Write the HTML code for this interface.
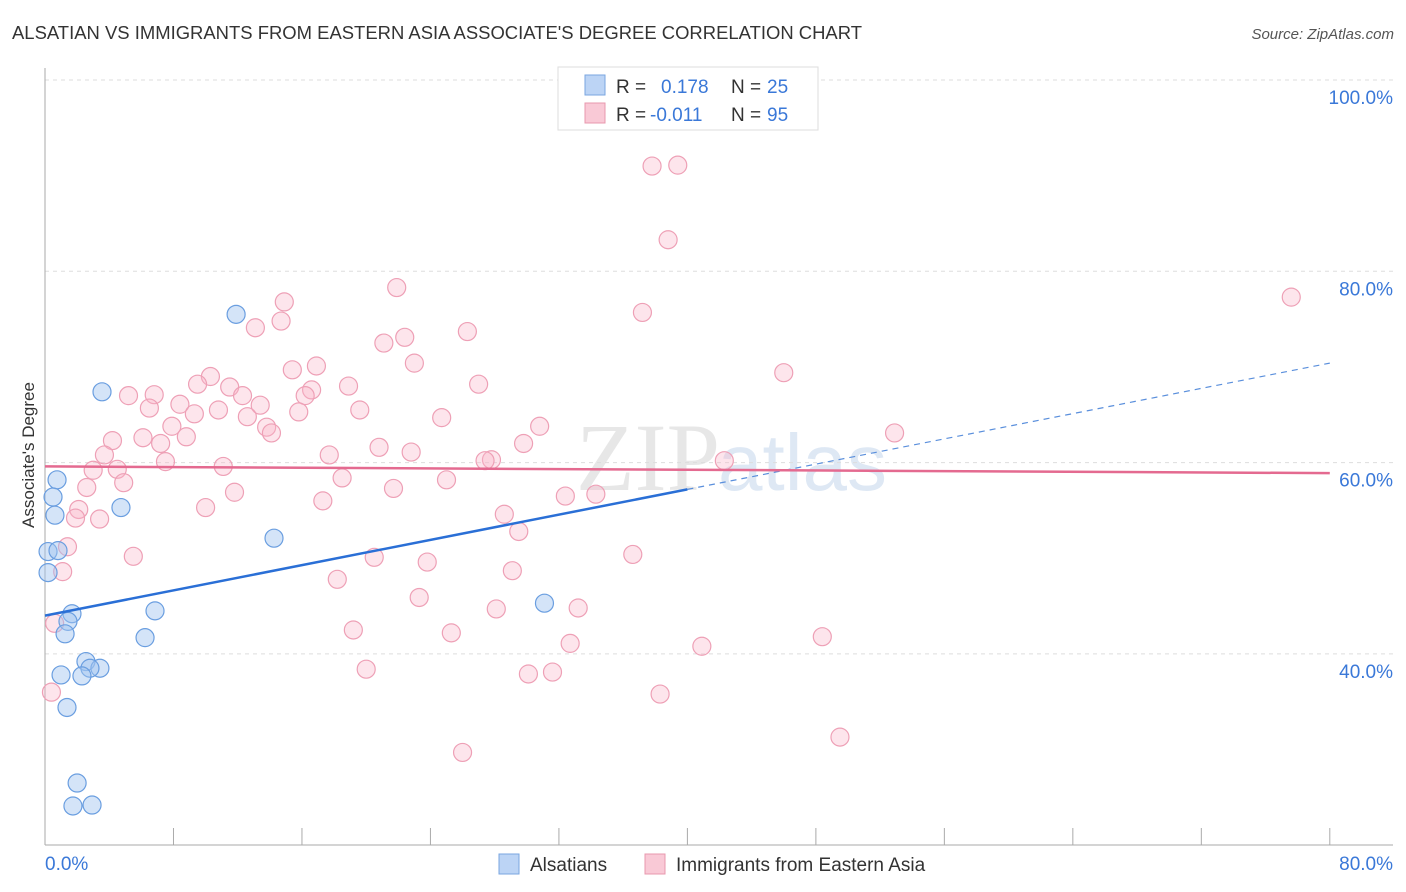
<!DOCTYPE html>
<html><head><meta charset="utf-8"><style>
body{margin:0;background:#fff;font-family:"Liberation Sans",sans-serif;}
svg{display:block}
</style></head><body>
<svg id="chart" width="1406" height="892" xmlns="http://www.w3.org/2000/svg">
<text x="12" y="39" font-size="18" fill="#333" textLength="850" lengthAdjust="spacingAndGlyphs">ALSATIAN VS IMMIGRANTS FROM EASTERN ASIA ASSOCIATE'S DEGREE CORRELATION CHART</text>
<text x="1394" y="39" font-size="15" fill="#555" font-style="italic" text-anchor="end">Source: ZipAtlas.com</text>
<text x="34" y="455" font-size="17" fill="#333" text-anchor="middle" transform="rotate(-90 34 455)">Associate's Degree</text>
<g><text x="720" y="490" font-size="96" fill="#ddd" text-anchor="end" font-family="Liberation Serif" opacity="0.7">ZIP</text><text x="718" y="490" font-size="80" fill="#c9d9ee" opacity="0.6">atlas</text></g>
<g id="grid"></g><g id="marks"></g>
<g>
<rect x="558" y="67" width="260" height="63" fill="#fff" stroke="#ddd"/>
<rect x="585" y="75" width="20" height="20" fill="#bcd4f5" stroke="#7aa6e0"/>
<text x="616" y="93" font-size="19" fill="#333">R =</text><text x="661" y="93" font-size="19" fill="#3a78d8">0.178</text>
<text x="731" y="93" font-size="19" fill="#333">N =</text><text x="767" y="93" font-size="19" fill="#3a78d8">25</text>
<rect x="585" y="103" width="20" height="20" fill="#f9c9d6" stroke="#e898ae"/>
<text x="616" y="121" font-size="19" fill="#333">R =</text><text x="650" y="121" font-size="19" fill="#3a78d8">-0.011</text>
<text x="731" y="121" font-size="19" fill="#333">N =</text><text x="767" y="121" font-size="19" fill="#3a78d8">95</text>
</g>
<g>
<rect x="499" y="854" width="20" height="20" fill="#bcd4f5" stroke="#7aa6e0"/><text x="530" y="871" font-size="19" fill="#333">Alsatians</text>
<rect x="645" y="854" width="20" height="20" fill="#f9c9d6" stroke="#e898ae"/><text x="676" y="871" font-size="19" fill="#333">Immigrants from Eastern Asia</text>
</g>
</svg>
<script>
const yTicks=[100,80,60,40];
const yTickLabels=["100.0%","80.0%","60.0%","40.0%"];
const xTicks=[0,8,16,24,32,40,48,56,64,72,80];
const blueX=[3.55,11.9,0.75,0.5,0.62,4.73,0.19,0.81,0.19,14.26,1.68,1.43,6.85,1.25,6.23,2.55,3.42,2.8,1.0,2.3,1.37,2.0,1.74,2.93,31.1];
const blueY=[67.4,75.5,58.2,56.4,54.5,55.3,50.7,50.8,48.5,52.1,44.2,43.4,44.5,42.1,41.7,39.2,38.5,38.5,37.8,37.7,34.4,26.5,24.1,24.2,45.3];
const pinkX=[37.8,39.4,38.8,77.6,21.9,14.9,14.7,13.1,37.2,26.3,22.4,21.1,23.0,16.9,15.4,46.0,10.3,9.5,11.5,18.9,27.0,16.6,5.2,6.8,12.3,16.2,8.4,6.5,10.8,13.4,9.3,15.8,19.6,12.6,24.7,7.9,13.8,14.1,6.1,8.8,7.2,4.2,3.7,52.9,30.8,29.8,20.8,22.8,17.7,7.5,11.1,3.0,4.5,27.8,27.4,42.3,18.5,25.0,4.9,2.6,11.8,21.7,32.4,34.3,17.3,10.0,2.1,1.9,3.4,28.6,29.5,1.4,5.5,20.5,36.6,1.1,23.8,29.1,18.2,23.3,33.2,28.1,0.6,19.2,25.3,32.7,48.4,40.9,20.0,30.1,31.6,0.4,38.3,49.5,26.0];
const pinkY=[91.0,91.1,83.3,77.3,78.3,76.8,74.8,74.1,75.7,73.7,73.1,72.5,70.4,70.1,69.7,69.4,69.0,68.2,67.9,68.0,68.2,67.6,67.0,67.1,67.0,67.0,66.1,65.7,65.5,66.0,65.1,65.3,65.5,64.8,64.7,63.8,63.7,63.1,62.6,62.7,62.0,62.3,60.8,63.1,63.8,62.0,61.6,61.1,60.8,60.1,59.6,59.2,59.3,60.3,60.2,60.2,58.4,58.2,57.9,57.4,56.9,57.3,56.5,56.7,56.0,55.3,55.1,54.2,54.1,54.6,52.8,51.2,50.2,50.1,50.4,48.6,49.6,48.7,47.8,45.9,44.8,44.7,43.2,42.5,42.2,41.1,41.8,40.8,38.4,37.9,38.1,36.0,35.8,31.3,29.7];
const blueTrend=[44.0,70.4]; const blueSolidEnd=40;
const pinkTrend=[59.6,58.9];
const NS="http://www.w3.org/2000/svg";
const X=v=>45+v*16.06, Y=v=>80+(100-v)*9.565;
function mk(t,a,p){const e=document.createElementNS(NS,t);for(const k in a)e.setAttribute(k,a[k]);p.appendChild(e);return e;}
const g=document.getElementById('grid'),m=document.getElementById('marks');
yTicks.forEach((t,i)=>{const l=mk('line',{x1:45,x2:1393,y1:Y(t),y2:Y(t),stroke:'#ddd','stroke-dasharray':'4,4'},g);

const tx=mk('text',{x:1393,y:Y(t)+24,'font-size':19,fill:'#3a78d8','text-anchor':'end'},g);tx.textContent=yTickLabels[i];
});
const ax=mk('line',{x1:45,x2:45,y1:68,y2:845,stroke:'#aaa'},g);
const bx=mk('line',{x1:45,x2:1393,y1:845,y2:845,stroke:'#aaa'},g);
xTicks.forEach(t=>{const l=mk('line',{x1:X(t),x2:X(t),y1:828,y2:845,stroke:'#aaa'},g);});
const x0=mk('text',{x:45,y:870,'font-size':19,fill:'#3a78d8'},g);x0.textContent='0.0%';
const x1=mk('text',{x:1393,y:870,'font-size':19,fill:'#3a78d8','text-anchor':'end'},g);x1.textContent='80.0%';
pinkX.forEach((v,i)=>{const c=mk('circle',{cx:X(v),cy:Y(pinkY[i]),r:9,fill:'rgba(248,180,200,0.35)',stroke:'#eea0b6','stroke-width':1.2},m);
});
blueX.forEach((v,i)=>{const c=mk('circle',{cx:X(v),cy:Y(blueY[i]),r:9,fill:'rgba(160,195,240,0.45)',stroke:'#6a9ee0','stroke-width':1.2},m);
});
const bs=(t)=>blueTrend[0]+(blueTrend[1]-blueTrend[0])*t/80;
const l1=mk('line',{x1:X(0),y1:Y(bs(0)),x2:X(blueSolidEnd),y2:Y(bs(blueSolidEnd)),stroke:'#2a6fd6','stroke-width':2.5},m);

const l2=mk('line',{x1:X(blueSolidEnd),y1:Y(bs(blueSolidEnd)),x2:X(80),y2:Y(bs(80)),stroke:'#5a8fdc','stroke-width':1.2,'stroke-dasharray':'6,5'},m);

const l3=mk('line',{x1:X(0),y1:Y(pinkTrend[0]),x2:X(80),y2:Y(pinkTrend[1]),stroke:'#e46a90','stroke-width':2.5},m);

</script>
</body></html>
